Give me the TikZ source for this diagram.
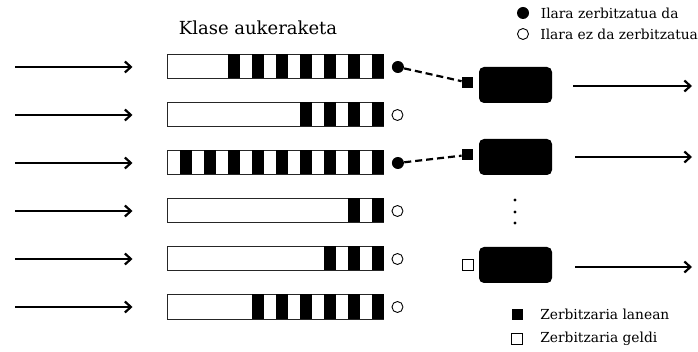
\documentclass[tikz,border=0pt]{standalone}
\usepackage{fontspec}
\setmainfont{DejaVu Serif}
\usepackage{tikz}
\usetikzlibrary{calc,positioning,arrows.meta}

\tikzset{
    queue/.style={draw=black!85, line width=1pt, minimum width=216pt, minimum height=24pt, inner sep=0pt},
    served/.style={circle, fill=black, minimum size=12pt, inner sep=0pt},
    waiting/.style={circle, draw, line width=0.9pt, minimum size=11pt, inner sep=0pt},
    busy/.style={fill=black, minimum size=11pt, inner sep=0pt},
    idle/.style={draw, line width=0.9pt, minimum size=11pt, inner sep=0pt},
    server/.style={fill=black, rounded corners=5pt, minimum width=73pt, minimum height=36pt, inner sep=0pt},
    flow/.style={-{Straight Barb[length=6pt, width=11pt, line width=2.2pt]}, line width=2.4pt},
    link/.style={line width=2.2pt, dash pattern=on 7pt off 4pt},
    legend/.style={anchor=west, inner sep=0pt, font=\fontsize{13.8}{16}\selectfont},
}

\begin{document}
\begin{tikzpicture}[x=1pt, y=-1pt, thick]
    \useasboundingbox (0,0) rectangle (698,352);
    \node[font=\fontsize{18}{20}\selectfont] (title) at (258,28) {Klase aukeraketa};
    %
    % queues: row / black stripes / y / state
    \foreach \i/\n/\y/\st in {1/7/67/served, 2/4/115/waiting, 3/9/163/served,
                              4/2/211/waiting, 5/3/259/waiting, 6/6/307/waiting} {
        \coordinate (in\i) at (15,\y);
        \node[queue] (q\i) at (275,\y) {};
        \foreach \k in {1,...,\n}
            \fill ($(q\i.north east)+({-24*(\k-1)},0)$) rectangle ++(-12,24);
        \node[\st, right=8pt of q\i] (c\i) {};
        \draw[flow, shorten >=34pt] (in\i) -- (q\i.west);
    }
    %
    % servers
    \node[server] (s1) at (515.5,85) {};
    \node[server] (s2) at (515.5,157) {};
    \node[server] (s3) at (515.5,265) {};
    \node[busy] (b1) at (467.5,82.5) {};
    \node[busy] (b2) at (467.5,155) {};
    \node[idle] (b3) at (467.5,265) {};
    \draw[link] (c1) -- (b1);
    \draw[link] (c3) -- (b2);
    \fill (515,200) circle (1.7pt);
    \fill (515,212) circle (1.7pt);
    \fill (515,223) circle (1.7pt);
    %
    \coordinate (o1) at (692,86);
    \coordinate (o2) at (692,157);
    \coordinate (o3) at (692,267);
    \draw[flow, shorten <=21pt] (s1.east |- o1) -- (o1);
    \draw[flow, shorten <=23pt] (s2.east |- o2) -- (o2);
    \draw[flow, shorten <=23pt] (s3.east |- o3) -- (o3);
    %
    % legend
    \node[served] (lgA) at (523,13) {};
    \node[legend, right=11pt of lgA] (txA) {Ilara zerbitzatua da};
    \node[waiting] (lgB) at (523,34) {};
    \node[legend, right=11pt of lgB] (txB) {Ilara ez da zerbitzatua};
    \node[busy] (lgC) at (517,314.5) {};
    \node[legend, right=17pt of lgC] (txC) {Zerbitzaria lanean};
    \node[idle] (lgD) at (517,339) {};
    \node[legend, right=17pt of lgD] (txD) {Zerbitzaria geldi};
\end{tikzpicture}
\end{document}
